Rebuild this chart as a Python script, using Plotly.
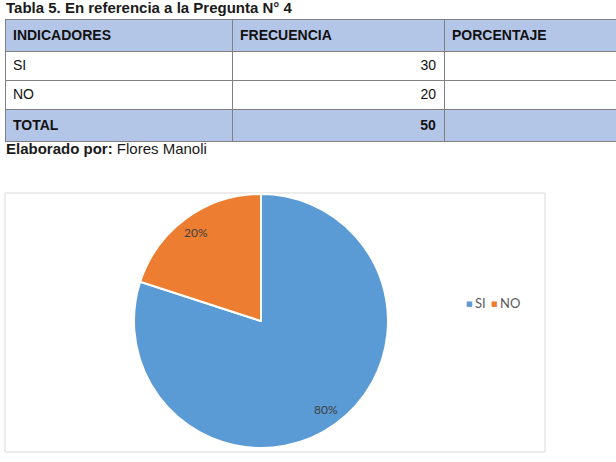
import math
import plotly.graph_objects as go

W, H = 616, 462

# ---- data ----
indicadores = ["SI", "NO"]
frecuencia = [30, 20]
porcentaje_grafico = [80, 20]
table_headers = ["INDICADORES", "FRECUENCIA", "PORCENTAJE"]
titulo = "Tabla 5. En referencia a la Pregunta N° 4"
fuente_label = "Elaborado por:"
fuente_autor = "Flores Manoli"
colores = ["#5B9BD5", "#ED7D31"]

total = sum(frecuencia)

def px_y(y):
    return 1 - y / H

def px_x(x):
    return x / W

fig = go.Figure()

TFONT = "Liberation Sans, Arial"

# ---- table ----
col1 = indicadores + ["<b>TOTAL</b>"]
col2 = [str(v) for v in frecuencia] + [f"<b>{total}</b>"]
col3 = ["", "", ""]
row_fill = ["white"] * len(indicadores) + ["#B4C6E7"]

fig.add_trace(go.Table(
    domain=dict(x=[px_x(5), 1.0], y=[px_y(170), px_y(19)]),
    columnwidth=[227, 212, 172],
    header=dict(
        values=[f"<b>{h}</b>" for h in table_headers],
        fill_color="#B4C6E7",
        line=dict(color="#808080", width=1),
        align="left",
        font=dict(family=TFONT, size=14, color="#111111"),
        height=28,
    ),
    cells=dict(
        values=[col1, col2, col3],
        fill_color=[row_fill, row_fill, row_fill],
        line=dict(color="#808080", width=1),
        align=["left", "right", "left"],
        font=dict(family=TFONT, size=14, color="#111111"),
        height=29,
    ),
))

# ---- pie ----
cx, cy, r = 261, 321, 127
fig.add_trace(go.Pie(
    labels=indicadores,
    values=porcentaje_grafico,
    marker=dict(colors=colores, line=dict(color="white", width=2)),
    sort=False,
    direction="clockwise",
    rotation=0,
    textinfo="none",
    hoverinfo="label+percent",
    domain=dict(x=[px_x(cx - r), px_x(cx + r)], y=[px_y(cy + r), px_y(cy - r)]),
    showlegend=False,
))

# data labels along slice bisectors (Excel style)
tot = sum(porcentaje_grafico)
acc = 0
annotations = []
for lab, v in zip(indicadores, porcentaje_grafico):
    mid = (acc + v / 2) / tot * 2 * math.pi  # clockwise from top
    acc += v
    lx = cx + 0.87 * r * math.sin(mid)
    ly = cy - 0.86 * r * math.cos(mid)
    annotations.append(dict(
        x=px_x(lx), y=px_y(ly), xref="paper", yref="paper",
        text=f"{round(v / tot * 100)}%", showarrow=False,
        font=dict(family="Lato, Open Sans", size=12, color="#404040"),
        xanchor="center", yanchor="middle",
    ))

# legend (Excel style: small squares + labels)
leg_x = [464, 489]
for lab, col, x0 in zip(indicadores, colores, leg_x):
    annotations.append(dict(
        x=px_x(x0), y=px_y(303.5), xref="paper", yref="paper", text="■",
        showarrow=False, xanchor="left", yanchor="middle",
        font=dict(family="DejaVu Sans", size=7, color=col),
    ))
    annotations.append(dict(
        x=px_x(x0 + 9), y=px_y(303), xref="paper", yref="paper", text=lab,
        showarrow=False, xanchor="left", yanchor="middle",
        font=dict(family="Lato, Open Sans", size=13, color="#595959"),
    ))

annotations.append(dict(
    x=px_x(4), y=px_y(8), xref="paper", yref="paper", text=f"<b>{titulo}</b>",
    showarrow=False, xanchor="left", yanchor="middle",
    font=dict(family=TFONT, size=15, color="#1a1a1a"),
))
annotations.append(dict(
    x=px_x(4), y=px_y(148), xref="paper", yref="paper",
    text=f"<b>{fuente_label}</b> {fuente_autor}",
    showarrow=False, xanchor="left", yanchor="middle",
    font=dict(family=TFONT, size=15, color="#1a1a1a"),
))

fig.update_layout(
    width=W, height=H,
    margin=dict(l=0, r=0, t=0, b=0),
    paper_bgcolor="white", plot_bgcolor="white",
    annotations=annotations,
    showlegend=False,
    shapes=[dict(type="rect", xref="paper", yref="paper",
                 x0=px_x(5), x1=px_x(545), y0=px_y(452), y1=px_y(193),
                 line=dict(color="#D9D9D9", width=1), fillcolor="rgba(0,0,0,0)",
                 layer="below")],
)

fig.write_html("out.html")
